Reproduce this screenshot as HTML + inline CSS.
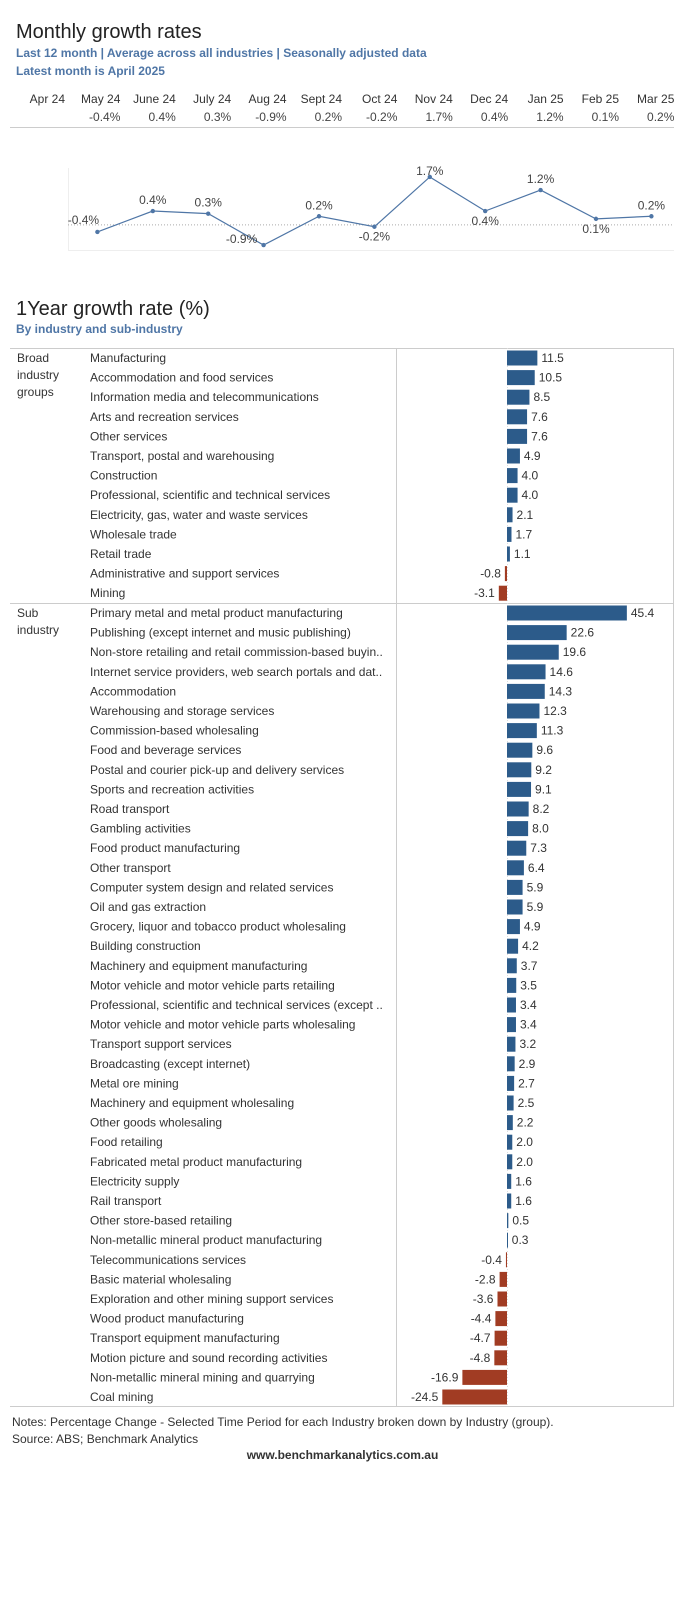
<!DOCTYPE html>
<html><head><meta charset="utf-8">
<style>
body{margin:0;background:#fff;width:700px;height:1600px;position:relative;font-family:"Liberation Sans",sans-serif;overflow:hidden}
.t{position:absolute;white-space:nowrap}
.h1{font-size:20px;color:#222;}
.sub{font-size:12px;font-weight:bold;color:#4f76a6}
svg{position:absolute;left:0;top:0}
</style></head><body>
<div class="t h1" style="left:16px;top:21px">Monthly growth rates</div>
<div class="t sub" style="left:16px;top:46px">Last 12 month | Average across all industries | Seasonally adjusted data</div>
<div class="t sub" style="left:16px;top:64px">Latest month is April 2025</div>
<div class="t h1" style="left:16px;top:298px">1Year growth rate (%)</div>
<div class="t sub" style="left:16px;top:322px">By industry and sub-industry</div>
<div class="t" style="left:12px;top:1415px;font-size:12px;color:#333">Notes: Percentage Change - Selected Time Period for each Industry broken down by Industry (group).</div>
<div class="t" style="left:12px;top:1432px;font-size:12px;color:#333">Source: ABS; Benchmark Analytics</div>
<div class="t" style="left:0;width:685px;text-align:center;top:1448px;font-size:12px;font-weight:bold;color:#333">www.benchmarkanalytics.com.au</div>
<svg id="s" width="700" height="1600"></svg>
<script>
const months=["Apr 24","May 24","June 24","July 24","Aug 24","Sept 24","Oct 24","Nov 24","Dec 24","Jan 25","Feb 25","Mar 25"];
const monthVals=[null,-0.4,0.4,0.3,-0.9,0.2,-0.2,1.7,0.4,1.2,0.1,0.2];
const broadCats=["Manufacturing","Accommodation and food services","Information media and telecommunications","Arts and recreation services","Other services","Transport, postal and warehousing","Construction","Professional, scientific and technical services","Electricity, gas, water and waste services","Wholesale trade","Retail trade","Administrative and support services","Mining"];
const broadVals=[11.5,10.5,8.5,7.6,7.6,4.9,4.0,4.0,2.1,1.7,1.1,-0.8,-3.1];
const subCats=["Primary metal and metal product manufacturing","Publishing (except internet and music publishing)","Non-store retailing and retail commission-based buyin..","Internet service providers, web search portals and dat..","Accommodation","Warehousing and storage services","Commission-based wholesaling","Food and beverage services","Postal and courier pick-up and delivery services","Sports and recreation activities","Road transport","Gambling activities","Food product manufacturing","Other transport","Computer system design and related services","Oil and gas extraction","Grocery, liquor and tobacco product wholesaling","Building construction","Machinery and equipment manufacturing","Motor vehicle and motor vehicle parts retailing","Professional, scientific and technical services (except ..","Motor vehicle and motor vehicle parts wholesaling","Transport support services","Broadcasting (except internet)","Metal ore mining","Machinery and equipment wholesaling","Other goods wholesaling","Food retailing","Fabricated metal product manufacturing","Electricity supply","Rail transport","Other store-based retailing","Non-metallic mineral product manufacturing","Telecommunications services","Basic material wholesaling","Exploration and other mining support services","Wood product manufacturing","Transport equipment manufacturing","Motion picture and sound recording activities","Non-metallic mineral mining and quarrying","Coal mining"];
const subVals=[45.4,22.6,19.6,14.6,14.3,12.3,11.3,9.6,9.2,9.1,8.2,8.0,7.3,6.4,5.9,5.9,4.9,4.2,3.7,3.5,3.4,3.4,3.2,2.9,2.7,2.5,2.2,2.0,2.0,1.6,1.6,0.5,0.3,-0.4,-2.8,-3.6,-4.4,-4.7,-4.8,-16.9,-24.5];

const s=document.getElementById('s');const NS='http://www.w3.org/2000/svg';
function mk(tag,at,txt){const e=document.createElementNS(NS,tag);for(const k in at)e.setAttribute(k,at[k]);if(txt!==undefined)e.textContent=txt;s.appendChild(e);return e;}
const fmt=v=>v.toFixed(1)+'%';
// table
const colX=i=>42+i*55.4;
months.forEach((m,i)=>{
 const e=mk('text',{x:colX(i)+23,y:103,'text-anchor':'end','font-size':12,fill:'#333'},m);
 
 
 if(monthVals[i]!==null){const v=mk('text',{x:colX(i)+23,y:121,'text-anchor':'end','font-size':12,fill:'#444'},fmt(monthVals[i]));
 
 }
});
mk('line',{x1:10,x2:674,y1:127.5,y2:127.5,stroke:'#ccc'});
// line chart
const ly=v=>221.5-26.2*v;
mk('line',{x1:68.5,x2:68.5,y1:168,y2:250,stroke:'#eee'});
mk('line',{x1:68,x2:674,y1:250.5,y2:250.5,stroke:'#eee'});
mk('line',{x1:68,x2:674,y1:ly(-0.13),y2:ly(-0.13),stroke:'#aaa','stroke-dasharray':'1,2'});
let pts=[];monthVals.forEach((v,i)=>{if(v!==null)pts.push([colX(i),ly(v),v]);});
const pl=mk('polyline',{points:pts.map(p=>p[0]+','+p[1]).join(' '),fill:'none',stroke:'#4f76a6','stroke-width':1.2});


pts.forEach((p,i)=>{
 const c=mk('circle',{cx:p[0],cy:p[1],r:2.2,fill:'#4f76a6'});
 
 
 const above=[1,2,4,6,8,10].includes(i);
 let dx=0,y=above?p[1]-7:p[1]+14;
 if(i===0){dx=-14;y=p[1]-8;}
 if(i===3){dx=-22;y=p[1]-2;}
 if(i===6){y=p[1]-2;}
 const t=mk('text',{x:p[0]+dx,y:y,'text-anchor':'middle','font-size':12,fill:'#444'},fmt(p[2]));
 
 
});
// bar panel
mk('line',{x1:10,x2:674,y1:348.5,y2:348.5,stroke:'#ccc'});
mk('line',{x1:10,x2:674,y1:603.5,y2:603.5,stroke:'#ccc'});
mk('line',{x1:10,x2:674,y1:1406.5,y2:1406.5,stroke:'#ccc'});
mk('line',{x1:673.5,x2:673.5,y1:348,y2:1407,stroke:'#ccc'});
mk('line',{x1:396.5,x2:396.5,y1:348,y2:1407,stroke:'#ccc'});
mk('line',{x1:507.5,x2:507.5,y1:348,y2:1407,stroke:'#ddd','stroke-dasharray':'1,2'});
[["Broad",362],["industry",379],["groups",396]].forEach(a=>mk('text',{x:17,y:a[1],'font-size':12,fill:'#333'},a[0]));
[["Sub",617],["industry",634]].forEach(a=>mk('text',{x:17,y:a[1],'font-size':12,fill:'#333'},a[0]));
const bx=v=>507+2.64*v;
function bars(cats,vals,y0){
 cats.forEach((c,i)=>{
  const y=y0+i*19.6,v=vals[i];
  const l=mk('text',{x:90,y:y+4,'font-size':12,fill:'#333'},c);
  
  
  const x1=Math.min(bx(0),bx(v)),w=Math.abs(bx(v)-bx(0));
  const r=mk('rect',{x:x1,y:y-7.5,width:Math.max(w,1),height:15,fill:v>=0?'#2c5b8a':'#a13c23'});
  
  
  const t=mk('text',{x:v>=0?bx(v)+4:bx(v)-4,y:y+4,'text-anchor':v>=0?'start':'end','font-size':12,fill:'#333'},v.toFixed(1));
  
  
 });
}
bars(broadCats,broadVals,358);
bars(subCats,subVals,613);
</script>
</body></html>
